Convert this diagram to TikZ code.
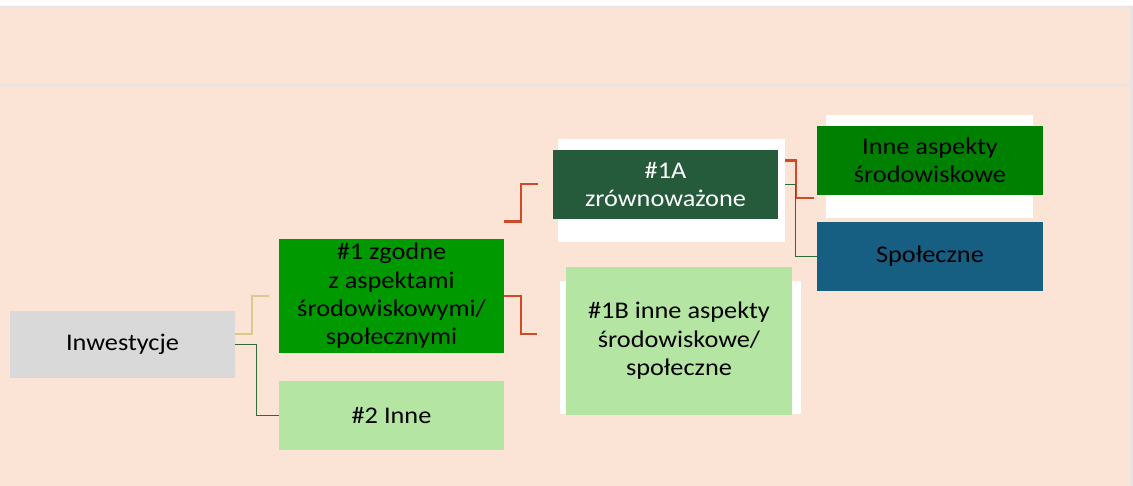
\documentclass[tikz,border=0pt]{standalone}
\usepackage{fontspec}
\setmainfont{Carlito}[FakeStretch=1.1]
\definecolor{peach}{HTML}{FBE3D6}
\definecolor{rulegray}{HTML}{E6E4E6}
\definecolor{invgray}{HTML}{D9D9D9}
\definecolor{greenA}{HTML}{009900}
\definecolor{greenB}{HTML}{008000}
\definecolor{lightgreen}{HTML}{B5E5A3}
\definecolor{darkgreen}{HTML}{255A3B}
\definecolor{socblue}{HTML}{175E83}
\definecolor{linkred}{HTML}{D04A2A}
\definecolor{linktan}{HTML}{DCC98E}
\definecolor{linkgreen}{HTML}{2F6B38}
\begin{document}
\begin{tikzpicture}[x=1bp,y=-1bp,line join=miter,font=\fontsize{24}{28.3}\selectfont]
				\tikzset{box style/.style={inner sep=0pt,align=center,minimum width=225bp,minimum height=68.7bp},
					back style/.style={fill=white,inner sep=0pt},
					red link/.style={draw=linkred,line width=2.2bp},
					tan link/.style={draw=linktan,line width=2bp},
					green link/.style={draw=linkgreen,line width=1.4bp}}
				\useasboundingbox (0,0) rectangle (1133,486);
				\fill[white] (0,0) rectangle (1133,486);
				\fill[peach] (0,7.5) rectangle (1130,486);
				\fill[rulegray] (0,6) rectangle (1133,7.5)
				(0,84) rectangle (1130,86)
				(1130,7.5) rectangle (1133,486);
				\node[back style,minimum width=227bp,minimum height=102.7bp] (z1Aback) at (671.5,190.35) {};
				\node[back style,minimum width=241bp,minimum height=132.7bp] (z1Bback) at (680.5,347.35) {};
				\node[back style,minimum width=207bp,minimum height=102.7bp] (envback) at (929.5,166.35) {};
				\node[box style,fill=invgray,minimum height=67bp] (inv) at (122.5,344.5) {Inwestycje};
				\node[box style,fill=greenA,minimum height=113.7bp] (zg) at (391.5,295.9) {\#1 zgodne\\z aspektami\\środowiskowymi/\\społecznymi};
				\node[box style,fill=lightgreen] (inne) at (391.5,415.3) {\#2 Inne};
				\node[box style,fill=darkgreen,text=white] (z1A) at (665.5,184.3) {\#1A\\zrównoważone};
				\node[box style,fill=lightgreen,minimum width=226bp,minimum height=147.7bp] (z1B) at (679,340.8) {\#1B inne aspekty\\środowiskowe/\\społeczne};
				\node[box style,fill=greenB,minimum width=226bp,minimum height=69bp] (env) at (930,160.5) {Inne aspekty\\środowiskowe};
				\node[box style,fill=socblue,minimum width=226bp] (soc) at (930,256.3) {Społeczne};
				\draw[tan link] ([yshift=10.8bp]inv.east) -- ++(17,0) |- ([xshift=-10bp]zg.west);
				\draw[green link] (inv.east) -- ++(21,0) |- (inne.west);
				\draw[red link] ([yshift=17.3bp]zg.north east) -- ++(17,0) |- ([xshift=-15bp]z1A.west);
				\draw[red link] (zg.east) -- ++(17,0) |- ([xshift=-28.5bp,yshift=6.8bp]z1B.west);
				\draw[red link] (z1Aback.east |- env.west) -- ++(11,0) |- ([xshift=-3bp,yshift=-2.7bp]env.south west);
				\draw[green link] (z1Aback.east |- z1A.east) -- ++(10,0) |- (soc.west);
			\end{tikzpicture}
\end{document}
